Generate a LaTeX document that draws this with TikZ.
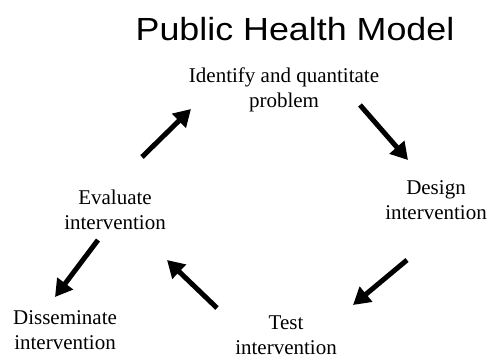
\documentclass[tikz,border=0pt]{standalone}
\usepackage{fontspec}
\setmainfont{Liberation Serif}
\newfontfamily\titlefont[FakeStretch=1.12]{Liberation Sans}
\usetikzlibrary{arrows.meta}

\begin{document}
\begin{tikzpicture}[x=1pt, y=-1pt,
	step node/.style={align=center, inner sep=0pt, font=\fontsize{21}{25}\selectfont},
	big arrow/.style={line width=5pt, -{Triangle[length=17pt,width=19pt]}}]
	\useasboundingbox (0,0) rectangle (492,360);
	
	\node[anchor=base, inner sep=0pt, font=\titlefont\fontsize{32}{38}\selectfont] (title) at (295,40) {Public Health Model};
	
	\node[step node] (identify) at (284,90) {Identify and quantitate\\problem};
	\node[step node] (design) at (436,200) {Design\\intervention};
	\node[step node] (test) at (286,335) {Test\hspace{18pt}\\intervention};
	\node[step node] (evaluate) at (115,210) {Evaluate\\intervention};
	\node[step node] (disseminate) at (65,330) {Disseminate\\intervention};
	
	% arrow ends
	\coordinate (e1) at (142,157);
	\coordinate (i1) at (191,109);
	\coordinate (i2) at (360,105);
	\coordinate (d1) at (408,160);
	\coordinate (d2) at (407,260);
	\coordinate (t1) at (353,305);
	\coordinate (t2) at (217,308);
	\coordinate (e2) at (167,260);
	\coordinate (e3) at (98,240);
	\coordinate (s1) at (55,297);
	
	\draw[big arrow] (e1) -- (i1);
	\draw[big arrow] (i2) -- (d1);
	\draw[big arrow] (d2) -- (t1);
	\draw[big arrow] (t2) -- (e2);
	\draw[big arrow] (e3) -- (s1);
\end{tikzpicture}
\end{document}
